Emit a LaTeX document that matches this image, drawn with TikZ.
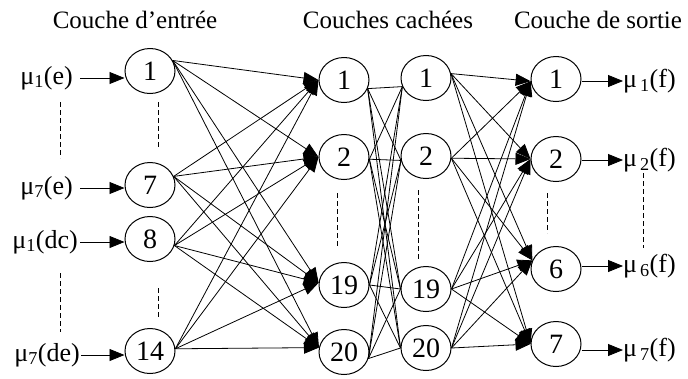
\documentclass[tikz,border=0pt]{standalone}
\usepackage{fontspec}
\setmainfont{Liberation Serif}
\usetikzlibrary{shapes.geometric,arrows.meta}

\begin{document}
\begin{tikzpicture}[x=1pt,y=-1pt,
  neuron/.style={draw, ellipse, line width=1pt, minimum width=50pt,
    minimum height=45pt, inner sep=0pt, font=\fontsize{28}{28}\selectfont},
  heading/.style={font=\fontsize{25}{25}\selectfont, inner sep=0pt},
  sig/.style={font=\fontsize{26}{26}\selectfont, inner sep=0pt},
  link/.style={line width=0.8pt},
  tip/.style={link, -{Triangle[length=15pt,width=12pt]}},
  gap/.style={line width=0.9pt, dash pattern=on 5pt off 3pt}
]
\useasboundingbox (0,0) rectangle (688,378);

% layer headings
\node[heading] (t1) at (135,20) {Couche d'entrée};
\node[heading] (t2) at (388,20) {Couches cachées};
\node[heading] (t3) at (598,20) {Couche de sortie};

% input layer
\node[neuron] (i1)  at (150,71)  {1};
\node[neuron] (i7)  at (150,185) {7};
\node[neuron] (i8)  at (150,239) {8};
\node[neuron] (i14) at (150,351) {14};

% first hidden layer
\node[neuron] (h1)  at (344,80)  {1};
\node[neuron] (h2)  at (344,157) {2};
\node[neuron] (h19) at (344,285) {19};
\node[neuron] (h20) at (344,352) {20};

% second hidden layer
\node[neuron] (k1)  at (426,78)  {1};
\node[neuron] (k2)  at (426,156) {2};
\node[neuron] (k19) at (426,289) {19};
\node[neuron] (k20) at (426,348) {20};

% output layer
\node[neuron] (o1) at (556,79)  {1};
\node[neuron] (o2) at (556,159) {2};
\node[neuron] (o6) at (556,269) {6};
\node[neuron] (o7) at (556,344) {7};

% input signals
\node[sig, anchor=east] (x1)  at (73,78)  {μ\textsubscript{1}(e)};
\node[sig, anchor=east] (x7)  at (73,188) {μ\textsubscript{7}(e)};
\node[sig, anchor=east] (x8)  at (78,242) {μ\textsubscript{1}(dc)};
\node[sig, anchor=east] (x14) at (80,355) {μ\textsubscript{7}(de)};

\draw[tip] ([xshift=7pt]x1.east) -- (x1.east -| i1.west);
\draw[tip] ([xshift=7pt]x7.east) -- (x7.east -| i7.west);
\draw[tip] ([xshift=2pt]x8.east) -- (x8.east -| i8.west);
\draw[tip] ([xshift=1pt]x14.east) -- (x14.east -| i14.west);

% output signals
\node[sig, anchor=west] (y1) at (623,81)  {μ\kern3pt\textsubscript{1}(f)};
\node[sig, anchor=west] (y2) at (623,160) {μ\kern3pt\textsubscript{2}(f)};
\node[sig, anchor=west] (y6) at (623,266) {μ\kern3pt\textsubscript{6}(f)};
\node[sig, anchor=west] (y7) at (623,350) {μ\kern3pt\textsubscript{7}(f)};

\draw[tip] (o1.east |- y1.west) -- (y1.west);
\draw[tip] (o2.east |- y2.west) -- (y2.west);
\draw[tip] (o6.east |- y6.west) -- (y6.west);
\draw[tip] (o7.east |- y7.west) -- (y7.west);

% input -> first hidden layer
\foreach \s/\a in {i1/25, i7/20, i8/-15, i14/5}
  \foreach \t/\b in {h1/180, h2/180, h19/175, h20/170}
    \draw[tip] (\s.\a) -- (\t.\b);

% first hidden -> second hidden layer
\foreach \s/\a in {h1/-20, h2/-5, h19/0, h20/-15}
  \foreach \t/\b in {k1/200, k2/190, k19/180, k20/180}
    \draw[link] (\s.\a) -- (\t.\b);

% second hidden -> output layer
\foreach \s/\a in {k1/10, k2/-5, k19/0, k20/0}
  \foreach \t/\b in {o1/185, o2/180, o6/160, o7/180}
    \draw[tip] (\s.\a) -- (\t.\b);

% elided units
\draw[gap] (60,102) -- (60,158);
\draw[gap] (60,273) -- (60,332);
\draw[gap] (158,102) -- (158,147);
\draw[gap] (158,288) -- (158,317);
\draw[gap] (337,193) -- (337,247);
\draw[gap] (418,190) -- (418,260);
\draw[gap] (547,193) -- (547,233);
\draw[gap] (643,173) -- (643,248);
\end{tikzpicture}
\end{document}
